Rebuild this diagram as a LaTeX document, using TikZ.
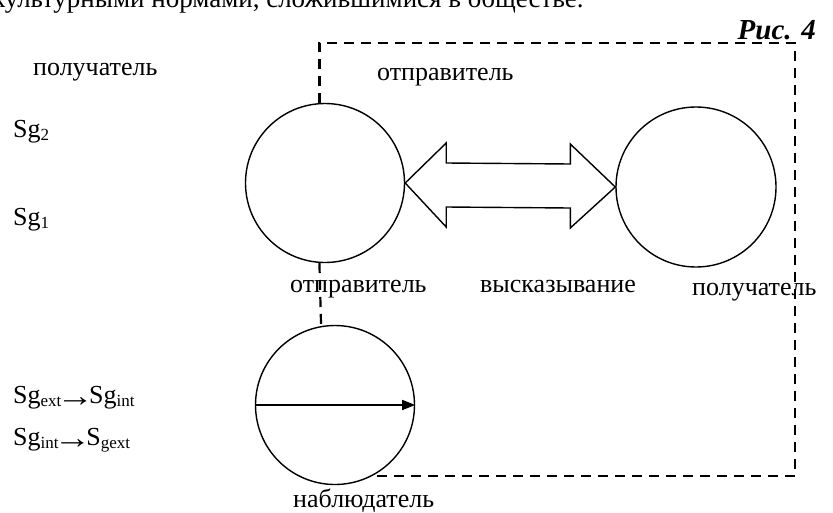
\documentclass[tikz,border=0pt]{standalone}
\usepackage{fontspec}
\setmainfont{Liberation Serif}
\usetikzlibrary{arrows.meta,calc}
\tikzset{
  circ/.style={draw,circle,line width=1.4pt,minimum size=159pt,inner sep=0pt},
  dsh/.style={line width=2.2pt,dash pattern=on 10pt off 7pt},
  lbl/.style={inner sep=0pt,font=\fontsize{26}{30}\selectfont},
}
\newcommand{\sub}[1]{\raisebox{-3.5pt}{\fontsize{17}{19}\selectfont #1}}
\newcommand{\sarr}{\kern-5pt\raisebox{-3pt}{\scalebox{1.45}[1.2]{→}}\kern-5pt}
\begin{document}
\begin{tikzpicture}[x=1pt,y=-1pt]
\useasboundingbox (0,0) rectangle (833,512);
\clip (0,0) rectangle (833,512);
% cut-off top line of text
\node[lbl,anchor=base west,font=\fontsize{27}{30}\selectfont] (top) at (-8,7) {культурными нормами, сложившимися в обществе.};
\node[lbl,anchor=base east,font=\fontsize{29}{32}\selectfont\bfseries\itshape] (fig) at (816,39) {Рис. 4};
% circles
\node[circ] (A) at (325,183) {};
\node[circ,minimum size=160pt] (B) at (696,187) {};
\node[circ] (C) at (335,405) {};
% block double arrow
\draw[line width=1.4pt,line join=miter]
  (A.east) -- ($(A.east)+(41,-40)$) -- ($(A.east)+(41,-20)$)
  -- ($(B.west)+(-45,-23)$) -- ($(B.west)+(-45,-43)$) -- (B.west)
  -- ($(B.west)+(-45,41)$) -- ($(B.west)+(-45,21)$)
  -- ($(A.east)+(41,24)$) -- ($(A.east)+(41,44)$) -- cycle;
% diameter arrow
\draw[line width=1.4pt,-{Triangle[length=13pt,width=10pt]}] (C.west) -- (C.east);
% dashed frame
\coordinate (tr) at (795,43);
\coordinate (br) at (795,476);
\draw[dsh] (A.94) -- (A.94 |- tr) -- (tr) -- (br) -- (br -| C.-62) -- (C.-62);
\draw[dsh] (A.-94) -- (C.100);
% labels
\node[lbl,anchor=base west] (p1) at (33,75) {получатель};
\node[lbl,anchor=base west] (o1) at (377,80) {отправитель};
\node[lbl,anchor=base west] (s2) at (13,137) {Sg\sub{2}};
\node[lbl,anchor=base west] (s1) at (13,225) {Sg\sub{1}};
\node[lbl,anchor=base west] (o2) at (290,292) {отправитель};
\node[lbl,anchor=base west] (v) at (480,292) {высказывание};
\node[lbl,anchor=base west] (p2) at (692,295) {получатель};
\node[lbl,anchor=base west] (e1) at (13,403) {Sg\sub{ext}\sarr Sg\sub{int}};
\node[lbl,anchor=base west] (e2) at (13,445) {Sg\sub{int}\sarr S\sub{gext}};
\node[lbl,anchor=base west] (n) at (293,507) {наблюдатель};
\end{tikzpicture}
\end{document}
